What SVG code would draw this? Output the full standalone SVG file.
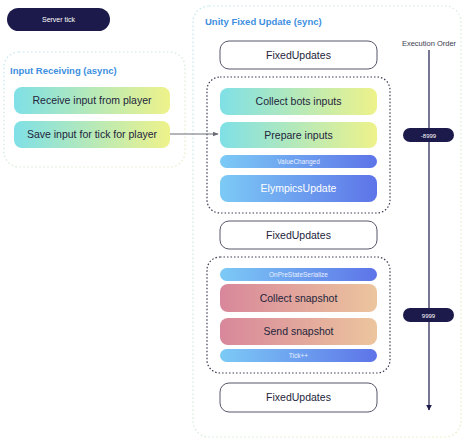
<svg xmlns="http://www.w3.org/2000/svg" width="474" height="444" viewBox="0 0 474 444">
<defs>
<linearGradient id="gIn" x1="0" y1="0" x2="1" y2="0"><stop offset="0" stop-color="#7fe0e6"/><stop offset="1" stop-color="#eef28a"/></linearGradient>
<linearGradient id="gBlue" x1="0" y1="0" x2="1" y2="0"><stop offset="0" stop-color="#7ccaf6"/><stop offset="1" stop-color="#5d74e8"/></linearGradient>
<linearGradient id="gPink" x1="0" y1="0" x2="1" y2="0"><stop offset="0" stop-color="#d8879a"/><stop offset="1" stop-color="#ecc59e"/></linearGradient>
<linearGradient id="gBorder" x1="0" y1="0" x2="1" y2="1"><stop offset="0" stop-color="#bfe6ee"/><stop offset="1" stop-color="#e8eec0"/></linearGradient>
<marker id="arrG" viewBox="0 0 10 10" refX="9" refY="5" markerWidth="6" markerHeight="6" orient="auto"><path d="M0,1 L10,5 L0,9 z" fill="#6b6b78"/></marker>
<marker id="arrN" viewBox="0 0 10 10" refX="9" refY="5" markerWidth="5" markerHeight="5" orient="auto"><path d="M0,0 L10,5 L0,10 z" fill="#1b1a4a"/></marker>
</defs>
<style>
text{font-family:"Liberation Sans",Arial,sans-serif;}
.cont{fill:#ffffff;stroke:url(#gBorder);stroke-width:1.2;stroke-dasharray:1.5 2.5;}
.title{font-size:9.5px;font-weight:bold;fill:#3d8fe0;}
.dot{fill:none;stroke:#3a3c50;stroke-width:1.2;stroke-dasharray:1.5 2;}
.fu{fill:#ffffff;stroke:#55576a;stroke-width:1;}
.lbl{font-size:10.5px;fill:#23253c;text-anchor:middle;}
.wl{font-size:10.5px;fill:#ffffff;text-anchor:middle;}
.sm{font-size:6.5px;fill:#e8f0ff;text-anchor:middle;}
.pill{fill:#1b1a4a;}
.pt{font-size:6px;fill:#ffffff;text-anchor:middle;}
</style>
<rect width="474" height="444" fill="#ffffff"/>

<g id="server-tick">
<rect class="pill" x="7" y="8" width="103" height="23" rx="11.5"/>
<text class="pt" x="58.5" y="22" style="font-size:7px">Server tick</text>
</g>

<g id="input-receiving">
<rect class="cont" x="4" y="52" width="181" height="115" rx="15"/>
<text class="title" x="10" y="74">Input Receiving (async)</text>
</g>
<g id="receive-input">
<rect x="14" y="87" width="156" height="27" rx="8" fill="url(#gIn)"/>
<text class="lbl" x="92" y="104">Receive input from player</text>
</g>
<g id="save-input">
<rect x="14" y="121" width="156" height="27" rx="8" fill="url(#gIn)"/>
<text class="lbl" x="92" y="138">Save input for tick for player</text>
</g>

<g id="unity-fixed-update">
<rect class="cont" x="193" y="6" width="268" height="431" rx="16"/>
<text class="title" x="205" y="25">Unity Fixed Update (sync)</text>
</g>

<g id="fixed-updates-1">
<rect class="fu" x="220" y="41" width="157" height="28" rx="9"/>
<text class="lbl" x="298.5" y="59">FixedUpdates</text>
</g>

<g id="group-inputs">
<rect class="dot" x="207" y="77" width="183" height="136" rx="13"/>
</g>
<g id="collect-bots-inputs">
<rect x="220" y="88" width="157" height="27" rx="8" fill="url(#gIn)"/>
<text class="lbl" x="298.5" y="105">Collect bots inputs</text>
</g>
<g id="prepare-inputs">
<rect x="220" y="122" width="157" height="26" rx="8" fill="url(#gIn)"/>
<text class="lbl" x="298.5" y="139">Prepare inputs</text>
</g>
<g id="value-changed">
<rect x="220" y="155" width="157" height="13" rx="6.5" fill="url(#gBlue)"/>
<text class="sm" x="298.5" y="164">ValueChanged</text>
</g>
<g id="elympics-update">
<rect x="220" y="175" width="157" height="27" rx="8" fill="url(#gBlue)"/>
<text class="wl" x="298.5" y="192">ElympicsUpdate</text>
</g>

<g id="fixed-updates-2">
<rect class="fu" x="220" y="221" width="157" height="28" rx="9"/>
<text class="lbl" x="298.5" y="239">FixedUpdates</text>
</g>

<g id="group-snapshot">
<rect class="dot" x="207" y="257" width="183" height="116" rx="13"/>
</g>
<g id="on-pre-state-serialize">
<rect x="220" y="268" width="157" height="13" rx="6.5" fill="url(#gBlue)"/>
<text class="sm" x="298.5" y="277">OnPreStateSerialize</text>
</g>
<g id="collect-snapshot">
<rect x="220" y="284" width="157" height="28" rx="8" fill="url(#gPink)"/>
<text class="lbl" x="298.5" y="302">Collect snapshot</text>
</g>
<g id="send-snapshot">
<rect x="220" y="318" width="157" height="27" rx="8" fill="url(#gPink)"/>
<text class="lbl" x="298.5" y="335">Send snapshot</text>
</g>
<g id="tick-plus">
<rect x="220" y="349" width="157" height="13" rx="6.5" fill="url(#gBlue)"/>
<text class="sm" x="298.5" y="358">Tick++</text>
</g>

<g id="fixed-updates-3">
<rect class="fu" x="220" y="383" width="157" height="29" rx="9"/>
<text class="lbl" x="298.5" y="401">FixedUpdates</text>
</g>

<g id="execution-order">
<text x="429" y="46" style="font-size:7.5px;fill:#3a3c50;text-anchor:middle">Execution Order</text>
</g>

<g id="connectors">
<line x1="170" y1="134" x2="218" y2="134" stroke="#6b6b78" stroke-width="1" marker-end="url(#arrG)"/>
<line x1="429" y1="50" x2="429" y2="410" stroke="#1b1a4a" stroke-width="1.2" marker-end="url(#arrN)"/>
</g>

<g id="order-minus-8999">
<rect class="pill" x="403" y="128" width="51" height="14" rx="7"/>
<text class="pt" x="428.5" y="137.5">-8999</text>
</g>
<g id="order-9999">
<rect class="pill" x="403" y="308" width="51" height="14" rx="7"/>
<text class="pt" x="428.5" y="317.5">9999</text>
</g>
</svg>
